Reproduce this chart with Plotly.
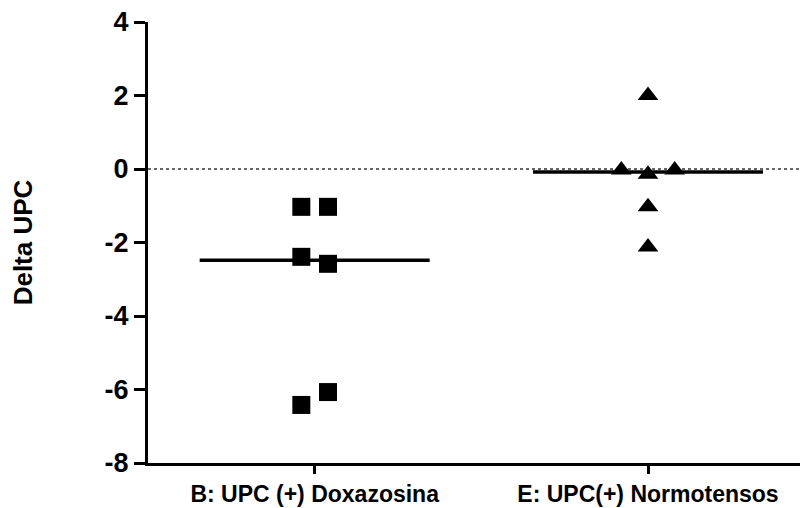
import numpy as np
import plotly.graph_objects as go

categories = ["B: UPC (+) Doxazosina", "E: UPC(+) Normotensos"]
doxazosina = [-1.03, -1.03, -2.39, -2.58, -6.07, -6.42]
doxazosina_jitter = [-0.04, 0.04, -0.04, 0.04, 0.04, -0.04]
normotensos = [2.0, -0.03, -0.14, -0.03, -1.03, -2.12]
normotensos_jitter = [0.0, -0.08, 0.0, 0.08, 0.0, 0.0]
y_ticks = [-8, -6, -4, -2, 0, 2, 4]
y_tick_labels = ["-8", "-6", "-4", "-2", "0", "2", "4"]

FONT = "Liberation Sans, Arial, sans-serif"
fig = go.Figure()

# zero reference line
fig.add_trace(go.Scatter(x=[-0.5, 1.6], y=[0, 0], mode="lines",
                         line=dict(color="#333333", width=1.5, dash="dot"),
                         hoverinfo="skip", showlegend=False))

groups = [
    (0, doxazosina, doxazosina_jitter, "square"),
    (1, normotensos, normotensos_jitter, "triangle-up"),
]
for idx, vals, jit, sym in groups:
    med = float(np.median(vals))
    fig.add_trace(go.Scatter(x=[idx - 0.345, idx + 0.345], y=[med, med], mode="lines",
                             line=dict(color="black", width=3.5),
                             showlegend=False))
    fig.add_trace(go.Scatter(x=[idx + j for j in jit], y=vals, mode="markers",
                             marker=dict(symbol=sym, size=18, color="black"),
                             showlegend=False))

fig.update_layout(
    width=800, height=500,
    margin=dict(l=140, r=0, t=14, b=45),
    paper_bgcolor="white", plot_bgcolor="white",
    font=dict(family=FONT, color="black"),
    showlegend=False,
)
fig.update_xaxes(
    range=[-0.5, 1.48], tickvals=[0, 1], ticktext=categories,
    showline=True, linecolor="black", linewidth=3,
    ticks="outside", ticklen=8, tickwidth=3, tickcolor="black",
    tickfont=dict(size=23, weight="bold", family=FONT),
    ticklabelstandoff=0, ticklabeloverflow="allow", automargin=False,
    showgrid=False, zeroline=False,
)
fig.update_yaxes(
    range=[-8, 4], tickvals=y_ticks, ticktext=y_tick_labels,
    showline=True, linecolor="black", linewidth=3,
    ticks="outside", ticklen=11, tickwidth=3, tickcolor="black",
    tickfont=dict(size=27, weight="bold", family=FONT),
    ticklabelstandoff=0, ticklabeloverflow="allow", automargin=False,
    title=dict(text="Delta UPC", font=dict(size=26, weight="bold", family=FONT), standoff=67),
    showgrid=False, zeroline=False,
)

fig.write_html("out.html")
